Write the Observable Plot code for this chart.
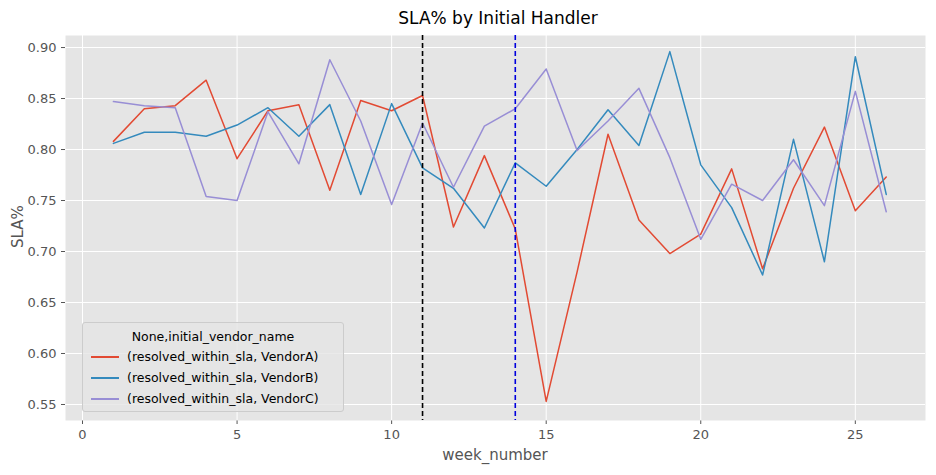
<!DOCTYPE html>
<html><head><meta charset="utf-8">
<script src="https://cdn.jsdelivr.net/npm/d3@7"></script>
<script src="https://cdn.jsdelivr.net/npm/@observablehq/plot@0.6"></script>
<style>
body{margin:0;font-family:"DejaVu Sans",sans-serif;background:#fff;}
#wrap{position:relative;width:936px;height:475px;}
#title{height:30px;text-align:center;font-size:17px;line-height:36px;padding-left:60px;box-sizing:border-box;}
#xl{position:absolute;left:65px;width:860px;top:446px;text-align:center;font-size:15px;color:#555;}
#yl{position:absolute;left:-2px;top:228px;font-size:15px;color:#555;transform:translate(0,-50%) rotate(-90deg);transform-origin:center;width:40px;text-align:center;}
#legend{position:absolute;left:82px;top:322px;width:262px;height:90px;background:rgba(229,229,229,0.8);border:1px solid #ccc;border-radius:3px;font-size:12.5px;box-sizing:border-box;}
#legend .t{text-align:center;margin-top:6px;}
#legend .r{display:flex;align-items:center;margin:4px 0 0 8px;height:17px;}
#legend .r span{display:inline-block;width:28px;height:2px;margin-right:8px;}
</style></head><body>
<div id="wrap"><div id="title">SLA% by Initial Handler</div><div id="chart"></div>
<div id="xl">week_number</div><div id="yl">SLA%</div>
<div id="legend"><div class="t">None,initial_vendor_name</div></div></div>
<script>
const weeks = d3.range(1,27);
const vendorA = [0.808,0.840,0.843,0.868,0.791,0.838,0.844,0.760,0.848,0.838,0.853,0.724,0.794,0.722,0.553,0.680,0.815,0.731,0.698,0.717,0.781,0.683,0.762,0.822,0.740,0.773];
const vendorB = [0.806,0.817,0.817,0.813,0.824,0.841,0.813,0.844,0.756,0.845,0.782,0.762,0.723,0.787,0.764,0.800,0.839,0.804,0.896,0.785,0.743,0.677,0.810,0.690,0.891,0.756];
const vendorC = [0.847,0.843,0.841,0.754,0.750,0.837,0.786,0.888,0.828,0.746,0.826,0.763,0.823,0.840,0.879,0.799,0.828,0.860,0.792,0.712,0.766,0.750,0.790,0.745,0.857,0.739];
const seriesNames = ["(resolved_within_sla, VendorA)","(resolved_within_sla, VendorB)","(resolved_within_sla, VendorC)"];
const colors = ["#E24A33","#348ABD","#988ED5"];
const xTicks = [0,5,10,15,20,25];
const yTicks = [0.55,0.60,0.65,0.70,0.75,0.80,0.85,0.90];
const vlines = [{w:11,c:"black"},{w:14,c:"#0000dd"}];

const data = [];
[vendorA,vendorB,vendorC].forEach((arr,i)=>arr.forEach((v,j)=>data.push({week:weeks[j],sla:v,s:seriesNames[i]})));

const chart = Plot.plot({
  width:936, height:445, marginTop:5, marginBottom:55, marginLeft:65, marginRight:11,
  style:{fontSize:"13px",fontFamily:"DejaVu Sans",color:"#555"},
  x:{domain:[-0.55,27.27],ticks:xTicks,label:null,tickSize:4},
  y:{domain:[0.5343,0.9118],ticks:yTicks,tickFormat:d3.format(".2f"),label:null,tickSize:4},
  color:{domain:seriesNames,range:colors},
  marks:[
    Plot.frame({fill:"#E5E5E5"}),
    Plot.gridX(xTicks,{stroke:"white",strokeOpacity:1,strokeWidth:1}),
    Plot.gridY(yTicks,{stroke:"white",strokeOpacity:1,strokeWidth:1}),
    Plot.line(data,{x:"week",y:"sla",stroke:"s",strokeWidth:1.5}),
    Plot.ruleX(vlines,{x:"w",stroke:"c",strokeWidth:1.6,strokeDasharray:"5,3"})
  ]
});
document.getElementById("chart").appendChild(chart);
const lg=document.getElementById("legend");
seriesNames.forEach((n,i)=>{const r=document.createElement("div");r.className="r";r.innerHTML=`<span style="background:${colors[i]}"></span>${n}`;lg.appendChild(r);});
</script></body></html>
